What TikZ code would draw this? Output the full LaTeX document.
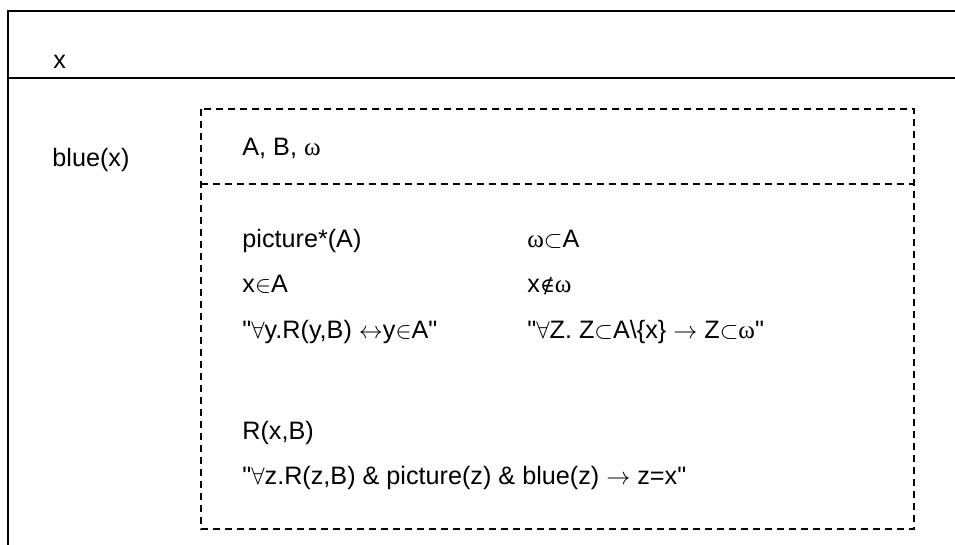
\documentclass[tikz,border=0pt]{standalone}
\usepackage{fontspec}
\setmainfont{Liberation Sans}[Ligatures=TeXOff]
\newfontfamily\symfam{Liberation Serif}
\newfontfamily\relfam{DejaVu Serif}[Scale=0.8]
\newcommand{\omg}{{\symfam ω}}
\newcommand{\nin}{{\relfam ∉}}
\usetikzlibrary{positioning}
\tikzset{
  drsline/.style={
    draw=black, line width=1pt
  },
  subline/.style={
    draw=black, line width=0.8pt,
    dash pattern=on 3.5pt off 2.5pt
  },
  cond/.style={
    anchor=base west, inner sep=0pt,
    font=\fontsize{12.6}{14}\selectfont
  }
}
\begin{document}
\begin{tikzpicture}[x=0.5pt, y=-0.5pt]
  \useasboundingbox (0,0) rectangle (955,545);

  % outer box
  \draw[drsline] (955,11) -- (8,11) -- (8,545);
  \draw[drsline] (8,78) -- (955,78);
  \node[cond] (univ) at (53,69) {x};
  \node[cond] (blue) at (52,167) {blue(x)};

  % inner box
  \draw[subline] (201,109) rectangle (914,529);
  \draw[subline] (201,184) -- (914,184);
  \node[cond] (subuniv) at (242,156) {A, B, \omg};

  \node[cond] (pic)   at (242,248) {picture*(A)};
  \node[cond] (xin)   at (242,293) {x$\in$A};
  \node[cond] (ydef)  at (242,339) {"$\forall$y.R(y,B) $\leftrightarrow$y$\in$A"};
  \node[cond] (wsub)  at (527,248) {\omg$\subset$A};
  \node[cond] (xnin)  at (527,293) {x\nin\omg};
  \node[cond] (zdef)  at (527,339) {"$\forall$Z. Z$\subset$A\textbackslash\{x\} $\rightarrow$ Z$\subset$\omg"};
  \node[cond] (rel)   at (242,440) {R(x,B)};
  \node[cond] (uniq)  at (242,485) {"$\forall$z.R(z,B) \& picture(z) \& blue(z) $\rightarrow$ z=x"};
\end{tikzpicture}
\end{document}
